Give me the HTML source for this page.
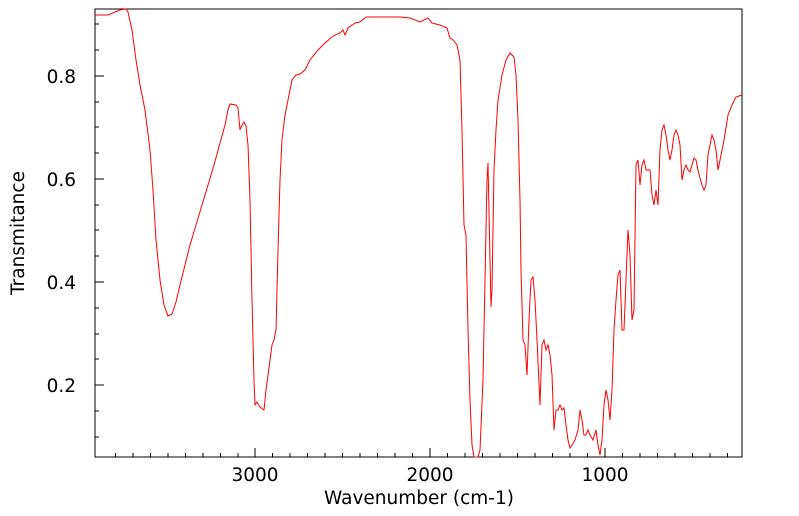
<!DOCTYPE html>
<html><head><style>body{margin:0;background:#fff}svg{display:block}text{font-family:"DejaVu Sans","Liberation Sans",sans-serif;font-size:18.5px;fill:#000}</style></head><body>
<svg width="799" height="516" viewBox="0 0 799 516">
<rect x="95" y="9" width="647" height="448" fill="none" stroke="#000" stroke-width="1"/>
<g stroke="#000" stroke-width="1">
<path d="M255,457v-9M430,457v-9M605,457v-9"/>
<path d="M115.5,457v-4M133,457v-4M150.5,457v-4M168,457v-4M185.5,457v-4M203,457v-4M220.5,457v-4M238,457v-4M272.5,457v-4M290,457v-4M307.5,457v-4M325,457v-4M342.5,457v-4M360,457v-4M377.5,457v-4M395,457v-4M412.5,457v-4M447.5,457v-4M465,457v-4M482.5,457v-4M500,457v-4M517.5,457v-4M535,457v-4M552.5,457v-4M570,457v-4M587.5,457v-4M622.5,457v-4M640,457v-4M657.5,457v-4M675,457v-4M692.5,457v-4M710,457v-4M727.5,457v-4"/>
<path d="M95,76h9M95,179h9M95,282h9M95,385h9"/>
<path d="M95,24h4M95,50h4M95,102h4M95,127h4M95,153h4M95,205h4M95,230h4M95,256h4M95,308h4M95,334h4M95,359h4M95,411h4M95,437h4"/>
</g>
<polyline fill="none" stroke="#ff0000" stroke-width="1" points="95,15 108,15 115,12 120,10 126,9 128,12 132,30 136,60 140,85 145,110 150,150 153,190 156,240 160,280 164,305 168,316 172,314 176,302 180,285 185,265 190,245 196,225 202,205 208,185 214,165 220,143 225,125 228,110 230,104 236,105 238,108 240,130 242,125 244,122 246,126 248,145 250,200 252,300 254,380 255,405 257,402 260,407 264,410 266,390 268,375 270,360 272,345 274,340 276,330 278,250 280,180 282,140 285,115 288,100 292,80 296,75 300,74 305,70 310,60 318,50 325,43 333,36 340,33 343,30 345,35 348,28 355,23 360,22 366,17 380,17 390,17 400,17 410,18 420,22 428,18 432,23 440,25 447,28 450,38 453,40 457,45 460,60 462,130 464,225 466,235 468,330 470,400 472,445 474,457 478,457 480,450 483,380 485,280 487,180 488,163 490,260 491,307 492,290 494,170 496,130 498,100 502,75 506,60 510,53 514,57 516,75 518,120 520,200 521,270 523,340 525,345 527,375 529,320 531,280 533,277 535,300 537,340 540,405 542,345 544,340 546,350 548,345 550,355 552,375 554,430 556,410 558,410 560,405 562,410 564,408 566,425 568,440 570,448 572,445 575,440 578,430 580,410 582,420 584,435 586,435 588,430 590,435 593,440 596,430 598,445 600,455 602,440 604,405 606,390 608,400 610,420 612,390 614,330 616,300 618,275 620,270 622,330 624,330 626,280 628,230 630,255 632,320 634,310 636,165 638,160 640,185 642,165 644,160 646,170 648,170 650,170 652,195 654,205 656,190 658,205 660,150 662,130 664,125 666,135 668,150 670,160 672,150 674,135 676,130 678,135 680,145 682,180 684,170 686,165 688,170 690,172 692,165 694,158 696,160 698,170 700,178 702,185 704,190 706,185 708,155 710,145 712,135 714,140 716,150 718,170 720,160 724,140 728,115 732,105 736,97 742,95"/>
<g text-anchor="middle">
<text x="255" y="481">3000</text><text x="430" y="481">2000</text><text x="605" y="481">1000</text>
<text x="419" y="504">Wavenumber (cm-1)</text>
</g>
<g text-anchor="end">
<text x="76" y="83">0.8</text><text x="76" y="186">0.6</text><text x="76" y="289">0.4</text><text x="76" y="392">0.2</text>
</g>
<text transform="translate(24,233) rotate(-90)" text-anchor="middle">Transmitance</text>
</svg>
</body></html>
